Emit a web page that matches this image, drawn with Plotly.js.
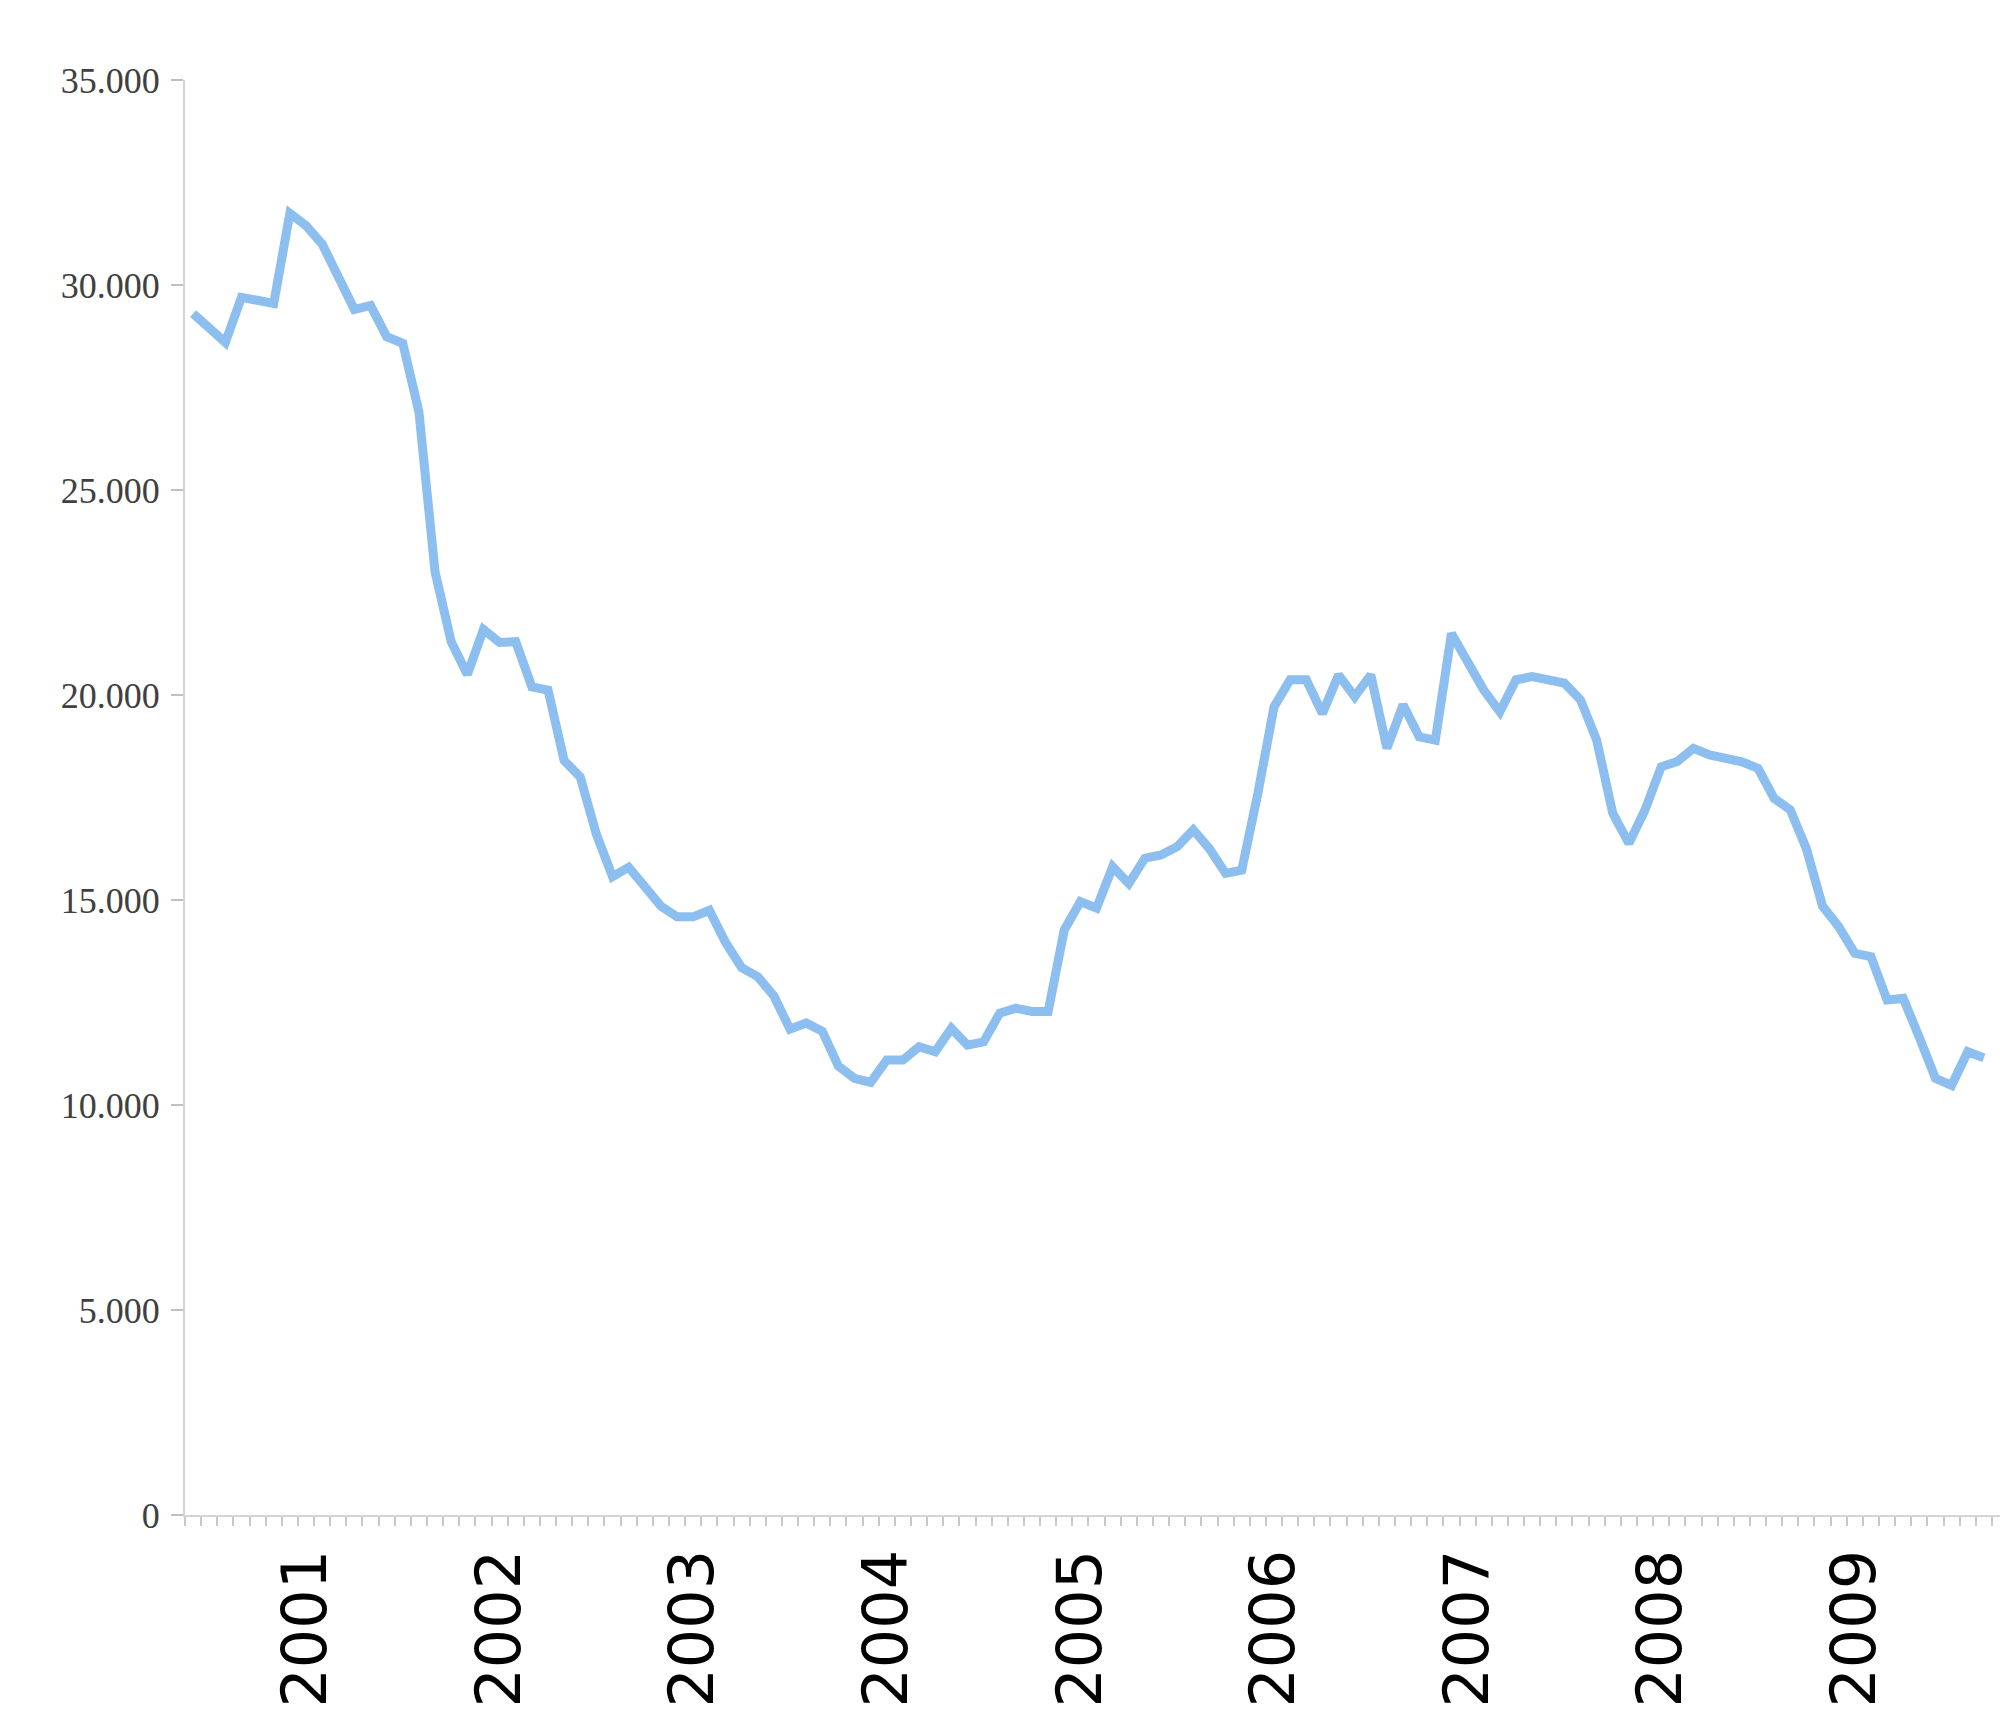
<!DOCTYPE html>
<html>
<head>
<meta charset="utf-8">
<script src="https://cdn.plot.ly/plotly-3.0.1.min.js"></script>
<style>html,body{margin:0;padding:0;background:#fff;}#chart{width:2000px;height:1728px;}</style>
</head>
<body>
<div id="chart"></div>
<script>
// Monthly series, June 2000 .. September 2009
var monthNames = ['Jan','Feb','Mar','Apr','May','Jun','Jul','Aug','Sep','Oct','Nov','Dec'];
var startYear = 2000, startMonth = 5; // June 2000
var values = [
  29300, 28950, 28600, 29700, 29620, 29550, 31750, 31450, 31000, 30200,
  29400, 29500, 28740, 28580, 26900, 23000, 21300, 20500, 21600, 21280,
  21300, 20200, 20120, 18400, 18000, 16600, 15570, 15800, 15320, 14850,
  14590, 14590, 14750, 13970, 13350, 13130, 12660, 11850, 12000, 11800,
  10950, 10650, 10550, 11100, 11100, 11420, 11300, 11870, 11460, 11540,
  12240, 12360, 12280, 12280, 14270, 14960, 14800, 15810, 15400, 16020,
  16100, 16300, 16710, 16250, 15650, 15730, 17600, 19710, 20370, 20370,
  19550, 20490, 19960, 20490, 18700, 19760, 18980, 18900, 21500, 20770,
  20120, 19590, 20370, 20450, 20370, 20290, 19880, 18900, 17110, 16380,
  17200, 18250, 18380, 18700, 18540, 18450, 18370, 18210, 17480, 17200,
  16250, 14850, 14350, 13700, 13620, 12560, 12600, 11650, 10650, 10480,
  11300, 11150
];
var categories = values.map(function (v, i) {
  var m = startMonth + i;
  return monthNames[m % 12] + ' ' + (startYear + Math.floor(m / 12));
});
var yearLabels = ['2001','2002','2003','2004','2005','2006','2007','2008','2009'];
var yTicks = [0, 5000, 10000, 15000, 20000, 25000, 30000, 35000];

var xIdx = categories.map(function (c, i) { return i; });
var tickIdx = yearLabels.map(function (y) { return categories.indexOf('Jan ' + y); });

var trace = {
  x: xIdx,
  y: values,
  text: categories,
  type: 'scatter',
  mode: 'lines',
  line: {color: '#8DBEF0', width: 9, shape: 'linear'},
  hoverinfo: 'text+y'
};

var layout = {
  width: 2000,
  height: 1728,
  margin: {l: 185, r: 0, t: 80, b: 213, pad: 0},
  paper_bgcolor: '#ffffff',
  plot_bgcolor: '#ffffff',
  showlegend: false,
  separators: ',.',
  xaxis: {
    range: [-0.5, 112],
    tickmode: 'array',
    tickvals: tickIdx,
    ticktext: yearLabels,
    tickangle: -90,
    ticks: '',
    ticklabelstandoff: 8,
    tickfont: {family: 'DejaVu Sans', size: 62, color: '#000000'},
    showline: true,
    linecolor: '#d4d4d4',
    linewidth: 2,
    showgrid: false,
    zeroline: false,
    minor: {tickmode: 'linear', tick0: -0.5, dtick: 1, ticks: 'outside', ticklen: 9, tickwidth: 2, tickcolor: '#c8c8c8', showgrid: false}
  },
  yaxis: {
    range: [0, 35000],
    tickmode: 'array',
    tickvals: yTicks,
    tickformat: ',d',
    ticks: 'outside',
    ticklen: 12,
    tickwidth: 2,
    tickcolor: '#c0c0c0',
    ticklabelstandoff: 4,
    tickfont: {family: 'Liberation Serif', size: 36, color: '#404040'},
    showline: true,
    linecolor: '#d4d4d4',
    linewidth: 2,
    showgrid: false,
    zeroline: false
  }
};

Plotly.newPlot('chart', [trace], layout, {displayModeBar: false, staticPlot: true});
</script>
</body>
</html>
